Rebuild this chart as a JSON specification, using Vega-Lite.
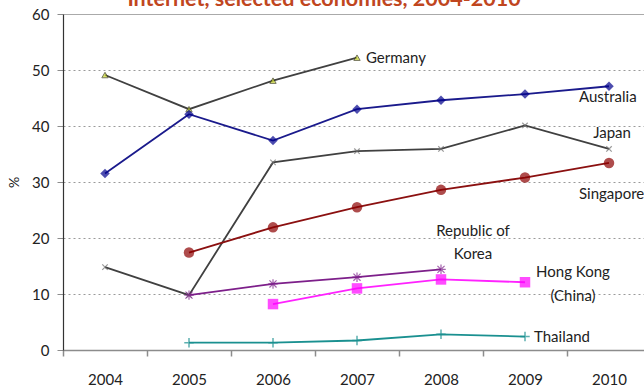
{
  "$schema": "https://vega.github.io/schema/vega-lite/v6.json",
  "autosize": "none",
  "width": 588,
  "height": 336,
  "padding": {"left": 63, "top": 14, "right": 0, "bottom": 37},
  "background": "white",
  "title": {
    "text": "Internet, selected economies, 2004-2010",
    "color": "#C0461E",
    "font": "Lato",
    "fontSize": 21.5,
    "fontWeight": "bold",
    "anchor": "middle",
    "dx": -33,
    "offset": 0,
    "dy": 20,
    "baseline": "alphabetic"
  },
  "config": {
    "view": {"stroke": null},
    "font": "Lato",
    "text": {"font": "Lato", "fontSize": 15, "color": "#222222"}
  },
  "datasets": {
    "series": [
      {"year": "2004", "country": "Germany", "value": 49.1},
      {"year": "2005", "country": "Germany", "value": 43.0},
      {"year": "2006", "country": "Germany", "value": 48.1},
      {"year": "2007", "country": "Germany", "value": 52.2},
      {"year": "2004", "country": "Australia", "value": 31.5},
      {"year": "2005", "country": "Australia", "value": 42.1},
      {"year": "2006", "country": "Australia", "value": 37.4},
      {"year": "2007", "country": "Australia", "value": 43.0},
      {"year": "2008", "country": "Australia", "value": 44.6},
      {"year": "2009", "country": "Australia", "value": 45.7},
      {"year": "2010", "country": "Australia", "value": 47.1},
      {"year": "2004", "country": "Japan", "value": 14.8},
      {"year": "2005", "country": "Japan", "value": 9.8},
      {"year": "2006", "country": "Japan", "value": 33.5},
      {"year": "2007", "country": "Japan", "value": 35.5},
      {"year": "2008", "country": "Japan", "value": 35.9},
      {"year": "2009", "country": "Japan", "value": 40.1},
      {"year": "2010", "country": "Japan", "value": 35.9},
      {"year": "2005", "country": "Singapore", "value": 17.4},
      {"year": "2006", "country": "Singapore", "value": 21.9},
      {"year": "2007", "country": "Singapore", "value": 25.5},
      {"year": "2008", "country": "Singapore", "value": 28.6},
      {"year": "2009", "country": "Singapore", "value": 30.8},
      {"year": "2010", "country": "Singapore", "value": 33.4},
      {"year": "2005", "country": "Republic of Korea", "value": 9.8},
      {"year": "2006", "country": "Republic of Korea", "value": 11.8},
      {"year": "2007", "country": "Republic of Korea", "value": 13.0},
      {"year": "2008", "country": "Republic of Korea", "value": 14.4},
      {"year": "2006", "country": "Hong Kong (China)", "value": 8.2},
      {"year": "2007", "country": "Hong Kong (China)", "value": 11.0},
      {"year": "2008", "country": "Hong Kong (China)", "value": 12.6},
      {"year": "2009", "country": "Hong Kong (China)", "value": 12.1},
      {"year": "2005", "country": "Thailand", "value": 1.3},
      {"year": "2006", "country": "Thailand", "value": 1.3},
      {"year": "2007", "country": "Thailand", "value": 1.7},
      {"year": "2008", "country": "Thailand", "value": 2.8},
      {"year": "2009", "country": "Thailand", "value": 2.4}
    ],
    "labels": [
      {"year": "2007", "value": 52.2, "label": "Germany"},
      {"year": "2010", "value": 45.2, "label": "Australia"},
      {"year": "2010", "value": 38.7, "label": "Japan"},
      {"year": "2010", "value": 27.9, "label": "Singapore"},
      {"year": "2008", "value": 21.2, "label": "Republic of\nKorea"},
      {"year": "2009", "value": 14.0, "label": "Hong Kong\n(China)"},
      {"year": "2009", "value": 2.3, "label": "Thailand"}
    ]
  },
  "data": {"name": "series"},
  "encoding": {
    "x": {
      "field": "year",
      "type": "ordinal",
      "scale": {"type": "band", "paddingInner": 0, "paddingOuter": 0, "domain": ["2004", "2005", "2006", "2007", "2008", "2009", "2010"]},
      "axis": {
        "title": null,
        "labelAngle": 0,
        "tickBand": "extent",
        "domainColor": "#8C8C8C",
        "domainWidth": 1.5,
        "tickColor": "#8C8C8C",
        "tickWidth": 1.5,
        "tickSize": 6,
        "labelPadding": 16,
        "labelFont": "Lato",
        "labelFontSize": 15,
        "labelColor": "#222222",
        "grid": false
      }
    },
    "y": {
      "field": "value",
      "type": "quantitative",
      "scale": {"domain": [0, 60], "nice": false, "zero": true},
      "axis": {
        "title": "%",
        "titleFont": "Lato",
        "titleFontSize": 14,
        "titleFontWeight": "normal",
        "titleColor": "#222222",
        "titlePadding": 10,
        "values": [0, 10, 20, 30, 40, 50, 60],
        "domainColor": "#333333",
        "domainWidth": 1.2,
        "tickColor": "#8C8C8C",
        "tickSize": 6,
        "labelPadding": 8,
        "labelFont": "Lato",
        "labelFontSize": 15,
        "labelColor": "#222222",
        "grid": true,
        "gridColor": {"condition": {"test": "datum.value === 60", "value": "#AAAAAA"}, "value": "#9A9A9A"},
        "gridDash": {"condition": {"test": "datum.value === 60", "value": []}, "value": [2, 3]},
        "gridWidth": 1
      }
    }
  },
  "layer": [
    {
      "mark": {"type": "line", "strokeWidth": 1.8},
      "encoding": {
        "color": {
          "field": "country",
          "type": "nominal",
          "legend": null,
          "scale": {
            "domain": ["Germany", "Australia", "Japan", "Singapore", "Republic of Korea", "Hong Kong (China)", "Thailand"],
            "range": ["#404040", "#1A1A8C", "#404040", "#8B1010", "#7D1F8A", "#FF22FF", "#1A9090"]
          }
        },
        "detail": {"field": "country"}
      }
    },
    {
      "transform": [{"filter": "datum.country === 'Germany'"}],
      "mark": {"type": "point", "shape": "triangle-up", "filled": true, "size": 40, "color": "#CCDB2E", "stroke": "#3A3A1A", "strokeWidth": 1}
    },
    {
      "transform": [{"filter": "datum.country === 'Australia'"}],
      "mark": {"type": "point", "shape": "diamond", "filled": true, "size": 90, "color": "#00008B"}
    },
    {
      "transform": [{"filter": "datum.country === 'Japan'"}],
      "mark": {"type": "point", "shape": "M-1,-1L1,1M-1,1L1,-1", "filled": false, "size": 30, "color": "#707070", "strokeWidth": 1.2}
    },
    {
      "transform": [{"filter": "datum.country === 'Singapore'"}],
      "mark": {"type": "point", "shape": "circle", "filled": true, "size": 110, "color": "#8B0000"}
    },
    {
      "transform": [{"filter": "datum.country === 'Republic of Korea'"}],
      "mark": {"type": "point", "shape": "M-1,0L1,0M0,-1L0,1M-0.75,-0.75L0.75,0.75M-0.75,0.75L0.75,-0.75", "filled": false, "size": 90, "color": "#7D1F8A", "strokeWidth": 1.2}
    },
    {
      "transform": [{"filter": "datum.country === 'Hong Kong (China)'"}],
      "mark": {"type": "point", "shape": "square", "filled": true, "size": 110, "color": "#FF00FF"}
    },
    {
      "transform": [{"filter": "datum.country === 'Thailand'"}],
      "mark": {"type": "point", "shape": "M-1,0L1,0M0,-1L0,1", "filled": false, "size": 90, "color": "#1A9090", "strokeWidth": 1.5}
    },
    {
      "data": {"name": "labels"},
      "transform": [{"filter": "datum.label === 'Germany'"}],
      "mark": {"type": "text", "align": "left", "baseline": "middle", "dx": 9},
      "encoding": {"text": {"field": "label"}}
    },
    {
      "data": {"name": "labels"},
      "transform": [{"filter": "datum.label === 'Australia' || datum.label === 'Singapore'"}],
      "mark": {"type": "text", "align": "left", "baseline": "middle", "dx": -30},
      "encoding": {"text": {"field": "label"}}
    },
    {
      "data": {"name": "labels"},
      "transform": [{"filter": "datum.label === 'Japan'"}],
      "mark": {"type": "text", "align": "center", "baseline": "middle", "dx": 3},
      "encoding": {"text": {"field": "label"}}
    },
    {
      "data": {"name": "labels"},
      "transform": [{"filter": "datum.label === 'Republic of\\nKorea'"}],
      "mark": {"type": "text", "align": "center", "baseline": "middle", "dx": 32, "lineBreak": "\n", "lineHeight": 23},
      "encoding": {"text": {"field": "label"}}
    },
    {
      "data": {"name": "labels"},
      "transform": [{"filter": "datum.label === 'Hong Kong\\n(China)'"}],
      "mark": {"type": "text", "align": "center", "baseline": "middle", "dx": 48, "lineBreak": "\n", "lineHeight": 24},
      "encoding": {"text": {"field": "label"}}
    },
    {
      "data": {"name": "labels"},
      "transform": [{"filter": "datum.label === 'Thailand'"}],
      "mark": {"type": "text", "align": "left", "baseline": "middle", "dx": 9},
      "encoding": {"text": {"field": "label"}}
    }
  ]
}
